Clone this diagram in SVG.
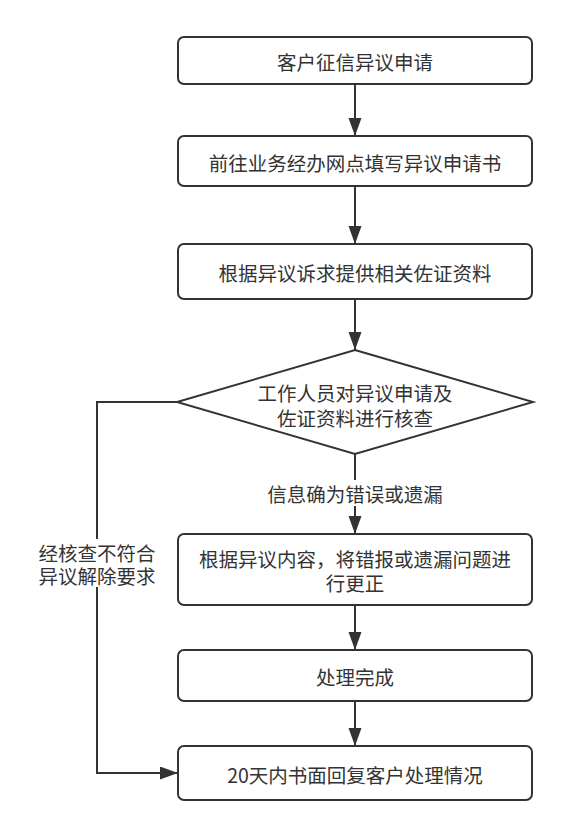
<svg xmlns="http://www.w3.org/2000/svg" width="570" height="837" viewBox="0 0 570 837">
<defs>
<style>
.box{fill:#ffffff;stroke:#333333;stroke-width:2}
.t{font-family:"Noto Sans CJK SC","Noto Sans",sans-serif;font-size:19.5px;fill:#333333;text-anchor:middle;dominant-baseline:central}
.c{fill:none;stroke:#333333;stroke-width:2}
</style>
<marker id="ah" markerUnits="userSpaceOnUse" markerWidth="18" markerHeight="14" refX="18" refY="6.5" orient="auto">
<path d="M0,0 L18,6.5 L0,13 Z" fill="#333333"/>
</marker>
</defs>
<rect width="570" height="837" fill="#ffffff"/>
<g id="connectors">
<line class="c" x1="355" y1="84" x2="355" y2="136" marker-end="url(#ah)"/>
<line class="c" x1="355" y1="186" x2="355" y2="244" marker-end="url(#ah)"/>
<line class="c" x1="355" y1="299" x2="355" y2="350" marker-end="url(#ah)"/>
<line class="c" x1="355" y1="454" x2="355" y2="534" marker-end="url(#ah)"/>
<line class="c" x1="355" y1="605" x2="355" y2="650" marker-end="url(#ah)"/>
<line class="c" x1="355" y1="701" x2="355" y2="746" marker-end="url(#ah)"/>
<polyline class="c" points="177,402 97,402 97,773 178,773" marker-end="url(#ah)"/>
<rect x="262" y="480" width="188" height="26" fill="#ffffff"/>
<text class="t" x="355" y="493">信息确为错误或遗漏</text>
<rect x="36" y="539" width="122" height="48" fill="#ffffff"/>
<text class="t" x="97" y="552"><tspan x="97" y="552">经核查不符合</tspan><tspan x="97" y="575">异议解除要求</tspan></text>
</g>
<g id="n1">
<rect class="box" x="178" y="37" width="354" height="47" rx="6"/>
<text class="t" x="355" y="61">客户征信异议申请</text>
</g>
<g id="n2">
<rect class="box" x="178" y="136" width="354" height="50" rx="6"/>
<text class="t" x="355" y="162">前往业务经办网点填写异议申请书</text>
</g>
<g id="n3">
<rect class="box" x="178" y="244" width="354" height="55" rx="6"/>
<text class="t" x="355" y="272">根据异议诉求提供相关佐证资料</text>
</g>
<g id="n4">
<polygon class="box" points="355,350 533,402 355,454 177,402"/>
<text class="t" x="355" y="392"><tspan x="355" y="392">工作人员对异议申请及</tspan><tspan x="355" y="416.5">佐证资料进行核查</tspan></text>
</g>
<g id="n5">
<rect class="box" x="178" y="534" width="354" height="71" rx="6"/>
<text class="t" x="355" y="558"><tspan x="355" y="558">根据异议内容，将错报或遗漏问题进</tspan><tspan x="355" y="582">行更正</tspan></text>
</g>
<g id="n6">
<rect class="box" x="178" y="650" width="354" height="51" rx="6"/>
<text class="t" x="355" y="676">处理完成</text>
</g>
<g id="n7">
<rect class="box" x="178" y="746" width="354" height="54" rx="6"/>
<text class="t" x="355" y="774">20天内书面回复客户处理情况</text>
</g>
</svg>
